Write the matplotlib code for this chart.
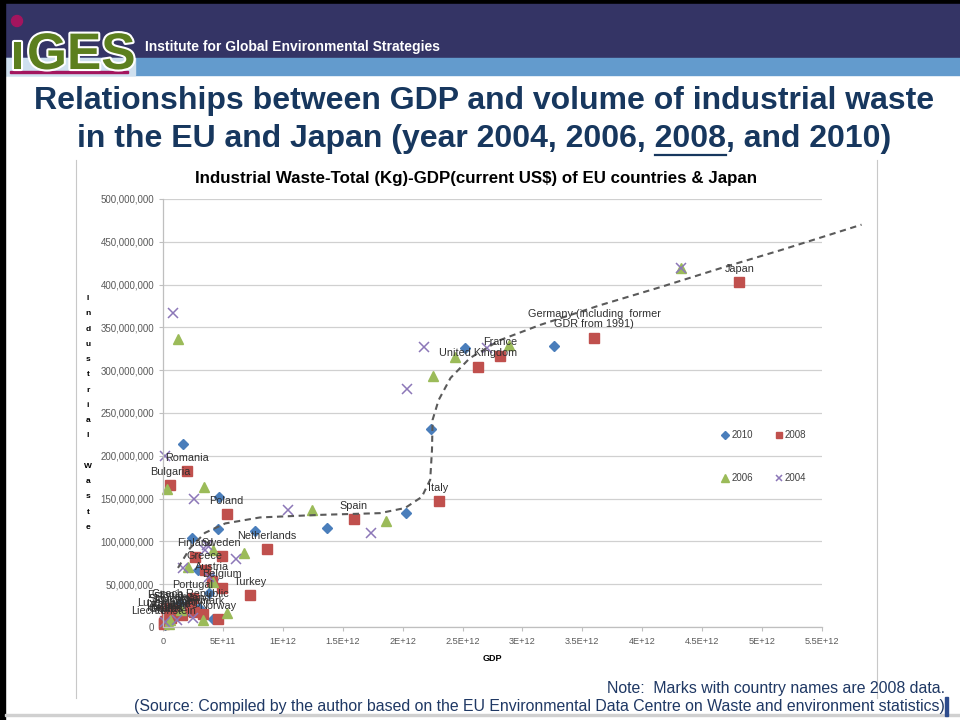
import matplotlib
matplotlib.use('Agg')
import numpy as np
import matplotlib.pyplot as plt
from matplotlib.patches import Rectangle, Circle
import matplotlib.patheffects as pe

plt.rcParams['font.family'] = ['Liberation Sans', 'DejaVu Sans']

# GDP in 1E+12 current US$, industrial waste in million kg
gdp_2010 = [0.167, 0.47, 0.24, 0.46, 0.77, 1.37, 2.03, 2.24, 2.52, 3.26,
            0.29, 0.42, 0.42, 0.05, 0.10, 0.02, 0.14, 0.30, 0.38, 0.21]
waste_2010 = [214, 152, 104, 115, 112, 116, 133, 231, 326, 328,
              67, 56, 9, 5, 12, 2, 28, 22, 40, 19]

names_2008 = ['Japan', 'Germany (including  former\nGDR from 1991)', 'France', 'United Kingdom',
              'Italy', 'Spain', 'Netherlands', 'Turkey', 'Poland', 'Romania', 'Bulgaria',
              'Finland', 'Sweden', 'Greece', 'Austria', 'Belgium', 'Portugal',
              'Czech Republic', 'Denmark', 'Norway', 'Estonia', 'Slovakia', 'Slovenia',
              'Luxembourg', 'Lithuania', 'Latvia', 'Hungary', 'Ireland', 'Cyprus', 'Malta',
              'Iceland', 'Croatia', 'Liechtenstein']
gdp_2008 = [4.81, 3.60, 2.81, 2.63, 2.30, 1.59, 0.87, 0.73, 0.53, 0.20, 0.058,
            0.27, 0.49, 0.35, 0.41, 0.49, 0.25, 0.225, 0.33, 0.46, 0.024, 0.098, 0.054,
            0.04, 0.047, 0.034, 0.155, 0.26, 0.025, 0.008, 0.017, 0.07, 0.005]
waste_2008 = [403, 338, 317, 304, 147, 126, 91, 37, 132, 182, 166,
              82, 83, 67, 54, 46, 34, 23, 15, 9, 22, 20, 17,
              13, 11, 9, 14, 18, 6, 5, 7, 10, 3]

gdp_2006 = [0.125, 0.03, 0.34, 0.68, 1.24, 1.86, 2.25, 2.44, 2.89, 4.32,
            0.21, 0.42, 0.42, 0.53, 0.33, 0.06, 0.15, 0.05]
waste_2006 = [336, 161, 164, 86, 137, 124, 293, 315, 329, 419,
              70, 90, 53, 16, 8, 8, 20, 3]

gdp_2004 = [0.08, 0.02, 0.26, 1.04, 1.74, 0.61, 2.04, 2.18, 2.70, 4.32,
            0.35, 0.37, 0.17, 0.25, 0.015, 0.12, 0.38]
waste_2004 = [367, 200, 150, 137, 110, 80, 278, 327, 326, 419,
              90, 96, 69, 10, 6, 8, 58]

# hand-drawn dashed guide line
trend_gdp = [0.125, 0.225, 0.35, 0.52, 0.81, 1.31, 1.81, 2.02, 2.16, 2.23, 2.245,
             2.25, 2.30, 2.40, 2.56, 2.81, 3.15, 3.65, 4.15, 4.65, 5.15, 5.83]
trend_waste = [69, 92, 110, 121, 128, 131, 133, 139, 152, 172, 207,
               242, 265, 291, 314, 335, 353, 376, 397, 419, 440, 470]

x_ticks = [0, 0.5, 1, 1.5, 2, 2.5, 3, 3.5, 4, 4.5, 5, 5.5]
x_tick_labels = ['0', '5E+11', '1E+12', '1.5E+12', '2E+12', '2.5E+12', '3E+12',
                 '3.5E+12', '4E+12', '4.5E+12', '5E+12', '5.5E+12']
y_ticks = [0, 50, 100, 150, 200, 250, 300, 350, 400, 450, 500]

T = 1e12
M = 1e6
NARROW = ['Liberation Sans Narrow', 'Liberation Sans']

fig = plt.figure(figsize=(9.6, 7.2), dpi=100)

# slide background in pixel coordinates
bg = fig.add_axes([0, 0, 1, 1], zorder=0)
bg.set_xlim(0, 960)
bg.set_ylim(720, 0)
bg.axis('off')

bg.add_patch(Rectangle((0, 0), 960, 4, color='black'))
bg.add_patch(Rectangle((0, 4), 960, 54, color='#343465'))
bg.add_patch(Rectangle((0, 58), 960, 17, color='#639BCD'))
bg.add_patch(Rectangle((5, 58), 130, 17, color='#CFE0EF'))
bg.add_patch(Rectangle((0, 0), 5, 720, color='black'))
bg.add_patch(Rectangle((5, 714), 955, 2, color='#D0D0D0'))
bg.add_patch(Rectangle((945, 697), 3, 19, color='#2E4C8C'))

# logo
glow = [pe.withStroke(linewidth=3, foreground='white')]
bg.text(10, 69, '\u0131', fontsize=37, fontweight='bold', color='#5C7F1E',
        family=NARROW, va='baseline', path_effects=glow)
bg.text(27, 69, 'GES', fontsize=37, fontweight='bold', color='#5C7F1E',
        family=NARROW, va='baseline', path_effects=glow)
bg.add_patch(Circle((17, 21), 5.5, color='#A3155E'))
bg.add_patch(Rectangle((10, 71), 118, 2, color='#A3155E'))
bg.text(145, 47, 'Institute for Global Environmental Strategies', fontsize=10,
        fontweight='bold', color='white', va='center')

# slide title
title_kw = dict(fontsize=23, fontweight='bold', color='#17375E', ha='center', va='center')
bg.text(484, 101, 'Relationships between GDP and volume of industrial waste', **title_kw)
line2 = 'in the EU and Japan (year 2004, 2006, 2008, and 2010)'
t2 = bg.text(484, 139, line2, **title_kw)

# chart frame
bg.plot([76, 76], [160, 698], color='#C8C8C8', lw=0.8)
bg.plot([877, 877], [160, 698], color='#C8C8C8', lw=0.8)

bg.text(476, 178, 'Industrial Waste-Total (Kg)-GDP(current US$) of EU countries & Japan',
        fontsize=12.2, fontweight='bold', color='black', ha='center', va='center')
bg.text(88, 413, '\n'.join('Industrial Waste'), fontsize=6, fontweight='bold',
        ha='center', va='center', linespacing=2.65, color='black')

note_kw = dict(fontsize=11.4, color='#1F3864', ha='right', va='center', family=NARROW)
bg.text(945, 688, 'Note:  Marks with country names are 2008 data.', **note_kw)
bg.text(945, 707, '(Source: Compiled by the author based on the EU Environmental Data Centre '
        'on Waste and environment statistics)', **note_kw)

# chart
ax = fig.add_axes([163 / 960, 93 / 720, 659 / 960, 428 / 720], zorder=2)
ax.patch.set_alpha(0)
ax.set_xlim(0, 5.5 * T)
ax.set_ylim(0, 500 * M)

h10, = ax.plot(np.array(gdp_2010) * T, np.array(waste_2010) * M, 'D', ms=5.5, color='#4A7EBB',
               mec='#4A7EBB', label='2010', clip_on=False)
h08, = ax.plot(np.array(gdp_2008) * T, np.array(waste_2008) * M, 's', ms=7, color='#C0504D',
               mec='#C0504D', label='2008', clip_on=False)
h06, = ax.plot(np.array(gdp_2006) * T, np.array(waste_2006) * M, '^', ms=7.5, color='#9BBB59',
               mec='#9BBB59', label='2006', clip_on=False)
h04, = ax.plot(np.array(gdp_2004) * T, np.array(waste_2004) * M, 'x', ms=7, mew=1.1,
               color='#8C77B8', label='2004', clip_on=False)

ax.plot(np.array(trend_gdp) * T, np.array(trend_waste) * M, color='#5A5A5A', lw=1.5,
        ls=(0, (3, 2.2)), clip_on=False, zorder=3)

for name, g, w in zip(names_2008, gdp_2008, waste_2008):
    ax.annotate(name, (g * T, w * M), xytext=(0, 6), textcoords='offset points',
                ha='center', va='bottom', fontsize=7.8, color='#303030',
                linespacing=1.0, annotation_clip=False, zorder=4)

ax.set_xticks(np.array(x_ticks) * T)
ax.set_xticklabels(x_tick_labels, family=NARROW)
ax.set_yticks(np.array(y_ticks) * M)
ax.set_yticklabels(['{:,}'.format(int(v * M)) for v in y_ticks])
ax.tick_params(axis='both', labelsize=7, labelcolor='#595959', color='#BFBFBF',
               length=3, width=0.8)
ax.tick_params(axis='x', pad=4, labelsize=6.6)
ax.grid(axis='y', color='#D0D0D0', lw=0.9)
ax.set_axisbelow(True)
for s in ['top', 'right']:
    ax.spines[s].set_visible(False)
for s in ['left', 'bottom']:
    ax.spines[s].set_color('#BFBFBF')
    ax.spines[s].set_linewidth(0.9)
ax.set_xlabel('GDP', fontsize=6.5, fontweight='bold', labelpad=6)

ax.legend([h10, h06, h08, h04], ['2010', '2006', '2008', '2004'],
          loc='center', bbox_to_anchor=(0.912, 0.398), ncol=2, frameon=False,
          fontsize=7, markerscale=0.7, handlelength=0.8, handletextpad=0.2,
          labelspacing=3.4, columnspacing=2.3, labelcolor='#404040')

# underline "2008" in the slide title
fig.canvas.draw()
r = fig.canvas.get_renderer()
full = t2.get_window_extent(r)
tmp1 = bg.text(0, 0, 'in the EU and Japan (year 2004, 2006, 2008', **title_kw)
tmp2 = bg.text(0, 0, '2008', **title_kw)
w1 = tmp1.get_window_extent(r).width
w2 = tmp2.get_window_extent(r).width
tmp1.remove()
tmp2.remove()
x_end = full.x0 + w1
bg.plot([x_end - w2, x_end], [155, 155], color='#17375E', lw=1.6)

fig.savefig('out.png', dpi=100)
